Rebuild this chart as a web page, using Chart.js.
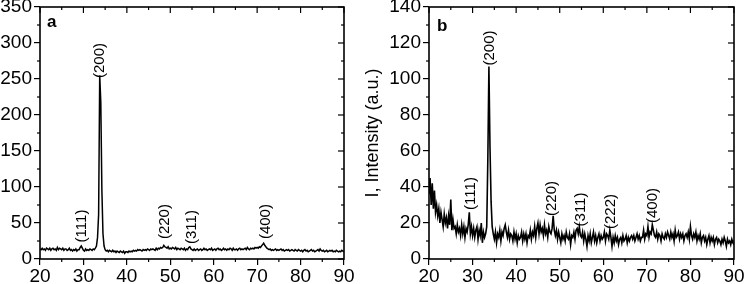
<!DOCTYPE html>
<html>
<head>
<meta charset="utf-8">
<script src="https://cdn.jsdelivr.net/npm/chart.js@4.4.1/dist/chart.umd.min.js"></script>
<style>
  html,body{margin:0;padding:0;background:#fff;}
  body{width:744px;height:284px;position:relative;overflow:hidden;}
  #ca{position:absolute;left:0;top:0;}
  #cb{position:absolute;left:360px;top:0;}
</style>
</head>
<body>
<canvas id="ca" width="360" height="284"></canvas>
<canvas id="cb" width="384" height="284"></canvas>
<script>
// 2-theta scan positions (degrees)
const twoTheta = [
20,20.25,20.5,20.75, 21,21.25,21.5,21.75, 22,22.25,22.5,22.75, 23,23.25,23.5,23.75,
24,24.25,24.5,24.75, 25,25.25,25.5,25.75, 26,26.25,26.5,26.75, 27,27.25,27.5,27.75,
28,28.25,28.5,28.75, 29,29.25,29.5,29.75, 30,30.25,30.5,30.75, 31,31.25,31.5,31.75,
32,32.25,32.5,32.75, 33,33.25,33.5,33.75, 34,34.25,34.5,34.75, 35,35.25,35.5,35.75,
36,36.25,36.5,36.75, 37,37.25,37.5,37.75, 38,38.25,38.5,38.75, 39,39.25,39.5,39.75,
40,40.25,40.5,40.75, 41,41.25,41.5,41.75, 42,42.25,42.5,42.75, 43,43.25,43.5,43.75,
44,44.25,44.5,44.75, 45,45.25,45.5,45.75, 46,46.25,46.5,46.75, 47,47.25,47.5,47.75,
48,48.25,48.5,48.75, 49,49.25,49.5,49.75, 50,50.25,50.5,50.75, 51,51.25,51.5,51.75,
52,52.25,52.5,52.75, 53,53.25,53.5,53.75, 54,54.25,54.5,54.75, 55,55.25,55.5,55.75,
56,56.25,56.5,56.75, 57,57.25,57.5,57.75, 58,58.25,58.5,58.75, 59,59.25,59.5,59.75,
60,60.25,60.5,60.75, 61,61.25,61.5,61.75, 62,62.25,62.5,62.75, 63,63.25,63.5,63.75,
64,64.25,64.5,64.75, 65,65.25,65.5,65.75, 66,66.25,66.5,66.75, 67,67.25,67.5,67.75,
68,68.25,68.5,68.75, 69,69.25,69.5,69.75, 70,70.25,70.5,70.75, 71,71.25,71.5,71.75,
72,72.25,72.5,72.75, 73,73.25,73.5,73.75, 74,74.25,74.5,74.75, 75,75.25,75.5,75.75,
76,76.25,76.5,76.75, 77,77.25,77.5,77.75, 78,78.25,78.5,78.75, 79,79.25,79.5,79.75,
80,80.25,80.5,80.75, 81,81.25,81.5,81.75, 82,82.25,82.5,82.75, 83,83.25,83.5,83.75,
84,84.25,84.5,84.75, 85,85.25,85.5,85.75, 86,86.25,86.5,86.75, 87,87.25,87.5,87.75,
88,88.25,88.5,88.75, 89,89.25,89.5,89.75, 90
];

// Panel a intensities
const intensityA = [
14,13,15,13, 14,12,15,14, 13,15,12,14, 15,13,14,12,
16,13,15,14, 13,15,12,14, 14,12,13,15, 12,13,11,13,
12,14,11,13, 13,16,18,15, 12,11,14,12, 13,12,14,13,
12,14,13,15, 18,30,62,255, 218,95,35,18, 13,11,12,10,
12,11,10,12, 10,11,9,11, 10,9,11,10, 9,11,8,10,
10,9,11,10, 11,10,12,11, 12,11,13,12, 13,12,11,13,
12,13,12,14, 13,12,14,13, 14,13,12,15, 13,15,14,16,
15,16,19,17, 16,15,17,14, 15,14,16,15, 14,16,13,15,
14,13,15,14, 13,15,12,14, 13,16,17,14, 13,12,14,12,
13,14,12,13, 14,12,13,15, 13,14,12,13, 14,13,15,12,
13,14,12,14, 15,13,14,12, 13,15,13,14, 12,14,13,15,
14,12,15,13, 13,14,12,14, 15,13,14,13, 14,15,13,16,
14,13,15,14, 15,14,16,15, 16,15,17,16, 18,20,22,19,
17,15,14,13, 14,12,13,12, 13,14,12,13, 12,13,14,12,
13,11,12,13, 12,13,11,12, 13,12,11,13, 12,11,13,12,
11,12,10,12, 13,11,12,10, 11,12,13,11, 12,10,11,12,
13,11,14,12, 11,12,10,11, 12,10,11,12, 11,12,10,11,
10,12,11,10, 11,10,12,11, 10
];

// Panel b intensities
const intensityB = [
36,45,30,42, 28,38,26,30, 24,28,20,26, 22,18,25,20,
23,17,24,19, 33,16,22,17, 18,14,19,15, 17,13,19,14,
18,12,17,15, 19,26,14,18, 13,17,12,16, 18,11,16,13,
20,9,15,12, 14,18,55,107, 62,32,18,14, 11,15,9,14,
12,16,10,15, 13,17,19,15, 12,16,11,14, 13,10,15,11,
14,9,13,11, 12,15,10,14, 11,14,9,13, 12,16,11,15,
13,18,12,17, 20,14,19,15, 17,13,19,14, 16,12,18,15,
14,17,24,16, 13,16,11,15, 12,9,14,11, 13,10,15,12,
11,14,8,13, 12,15,11,16, 17,14,18,13, 12,15,10,14,
11,7,13,10, 14,9,12,15, 10,13,9,12, 14,10,13,11,
12,15,10,14, 13,11,16,12, 7,12,9,13, 10,12,8,11,
12,9,13,10, 11,13,9,12, 10,12,13,11, 13,10,12,14,
11,13,10,12, 12,16,11,14, 13,18,12,15, 14,19,16,13,
12,15,11,14, 13,10,14,12, 11,14,12,15, 13,11,15,12,
14,10,16,12, 13,15,11,14, 12,14,10,13, 14,12,15,11,
18,13,11,14, 12,15,10,13, 11,14,9,12, 13,10,12,8,
11,13,9,12, 10,12,8,11, 12,9,11,10, 8,11,9,12,
10,7,11,9, 10,8,11,9, 8
];

// Reflection labels: text, 2-theta, label centre height (intensity units)
const hklA = ["(111)", "(200)", "(220)", "(311)", "(400)"];
const hklAx = [29.7, 33.7, 48.7, 54.9, 72.1];
const hklAy = [45.8, 275.7, 52, 44.4, 52];
const hklB = ["(111)", "(200)", "(220)", "(311)", "(222)", "(400)"];
const hklBx = [29.5, 33.9, 48.3, 54.8, 61.7, 71.4];
const hklBy = [36.4, 117.2, 33.6, 27.5, 26.4, 29.7];

const xTicks = [20, 30, 40, 50, 60, 70, 80, 90];
const yTicksA = [0, 50, 100, 150, 200, 250, 300, 350];
const yTicksB = [0, 20, 40, 60, 80, 100, 120, 140];

const FONT = '"Liberation Sans", Arial, Helvetica, sans-serif';

const framePlugin = {
  id: 'frame',
  afterDraw(chart, args, o) {
    const ctx = chart.ctx;
    const {left, right, top, bottom} = chart.chartArea;
    const xs = chart.scales.x, ys = chart.scales.y;
    ctx.save();
    ctx.strokeStyle = '#000';
    ctx.lineWidth = 1.6;
    ctx.strokeRect(left, top, right - left, bottom - top);
    ctx.lineWidth = 1.2;
    const line = (x1, y1, x2, y2) => { ctx.beginPath(); ctx.moveTo(x1, y1); ctx.lineTo(x2, y2); ctx.stroke(); };
    for (let i = 0; i < xTicks.length; i++) {
      const px = xs.getPixelForValue(xTicks[i]);
      line(px, top, px, top + 6);
      if (i < xTicks.length - 1) {
        const mv = (xTicks[i] + xTicks[i + 1]) / 2;
        const mp = xs.getPixelForValue(mv);
        line(mp, bottom, mp, bottom + 3);
        line(mp, top, mp, top + 3);
      }
    }
    const yt = o.yTicks;
    for (let i = 0; i < yt.length; i++) {
      const py = ys.getPixelForValue(yt[i]);
      line(right, py, right - 6, py);
      if (i < yt.length - 1) {
        const mv = (yt[i] + yt[i + 1]) / 2;
        const mp = ys.getPixelForValue(mv);
        line(left, mp, left - 3, mp);
        line(right, mp, right - 3, mp);
      }
    }
    ctx.fillStyle = '#000';
    ctx.font = '15px ' + FONT;
    ctx.textAlign = 'center';
    ctx.textBaseline = 'middle';
    for (let i = 0; i < o.hkl.length; i++) {
      const px = xs.getPixelForValue(o.hklx[i]);
      const py = ys.getPixelForValue(o.hkly[i]);
      ctx.save();
      ctx.translate(px, py);
      ctx.rotate(-Math.PI / 2);
      ctx.fillText(o.hkl[i], 0, 0);
      ctx.restore();
    }
    ctx.font = 'bold 17px ' + FONT;
    ctx.textAlign = 'left';
    ctx.textBaseline = 'alphabetic';
    ctx.fillText(o.letter, left + o.letterDx, top + o.letterDy);
    ctx.restore();
  }
};

function makeChart(id, values, yMax, yTicks, hkl, hklx, hkly, letter, letterDx, letterDy, yWidth, padRight, title, lw) {
  const pts = twoTheta.map((t, i) => ({x: t, y: values[i]}));
  return new Chart(document.getElementById(id), {
    type: 'line',
    data: { datasets: [{ data: pts, borderColor: '#000', borderWidth: lw, pointRadius: 0, tension: 0, fill: false }] },
    options: {
      responsive: false,
      animation: false,
      devicePixelRatio: 1,
      layout: { padding: { left: 0, right: padRight, top: 7, bottom: 0 } },
      plugins: {
        legend: { display: false },
        tooltip: { enabled: false },
        frame: { yTicks, hkl, hklx, hkly, letter, letterDx, letterDy }
      },
      scales: {
        x: {
          type: 'linear', min: 20, max: 90,
          afterBuildTicks: (s) => { s.ticks = xTicks.map(v => ({value: v})); },
          afterFit: (s) => { s.height = 25; s.paddingLeft = 0; s.paddingRight = 0; },
          ticks: { color: '#000', font: { family: FONT, size: 19 }, padding: 0, maxRotation: 0, autoSkip: false },
          grid: { display: true, drawOnChartArea: false, drawTicks: true, tickLength: 6, color: '#000', lineWidth: 1.2 },
          border: { display: false }
        },
        y: {
          type: 'linear', min: 0, max: yMax,
          afterBuildTicks: (s) => { s.ticks = yTicks.map(v => ({value: v})); },
          afterFit: (s) => { s.width = yWidth; s.paddingTop = 0; s.paddingBottom = 0; },
          ticks: { color: '#000', font: { family: FONT, size: 19 }, padding: 2, autoSkip: false },
          grid: { display: true, drawOnChartArea: false, drawTicks: true, tickLength: 6, color: '#000', lineWidth: 1.2 },
          border: { display: false },
          title: title ? { display: true, text: title, color: '#000', font: { family: FONT, size: 18 }, padding: { top: 2, bottom: 0 } } : { display: false }
        }
      }
    },
    plugins: [framePlugin]
  });
}

makeChart('ca', intensityA, 350, yTicksA, hklA, hklAx, hklAy, 'a', 7, 20, 40, 16, null, 1.5);
makeChart('cb', intensityB, 140, yTicksB, hklB, hklBx, hklBy, 'b', 8, 24, 69, 10, 'I, Intensity (a.u.)', 1.6);
</script>
</body>
</html>
